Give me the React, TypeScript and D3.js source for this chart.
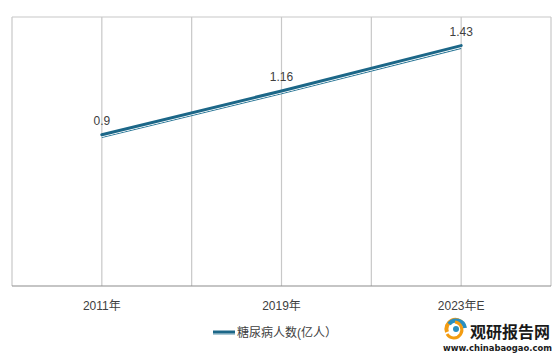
import React from "react";
import * as d3 from "d3";

const width = 559;
const height = 355;
const margin = { top: 17, right: 8, bottom: 69, left: 12 };

const categories = ["2011年", "2019年", "2023年E"];
const values = [0.9, 1.16, 1.43];
const seriesName = "糖尿病人数(亿人）";

const font = "'Liberation Sans', 'Noto Sans CJK SC', sans-serif";

export default function App() {
  const innerW = width - margin.left - margin.right;
  const innerH = height - margin.top - margin.bottom;

  // band scale for categories, point in middle of each band
  const xScale = d3.scaleBand().domain(categories).range([0, innerW]).padding(0);
  const yScale = d3.scaleLinear().domain([0, 1.6]).range([innerH, 0]);

  const cx = (c: string) => (xScale(c) || 0) + xScale.bandwidth() / 2;

  // gridlines at band edges and band centers
  const grid: number[] = [];
  categories.forEach(c => {
    grid.push(xScale(c) || 0);
    grid.push(cx(c));
  });
  grid.push(innerW);

  const pts: [number, number][] = categories.map((c, i) => [cx(c), yScale(values[i])]);
  const line = d3.line<[number, number]>();
  const path = line(pts) || "";

  return (
    <svg width={width} height={height} style={{ position: "absolute", left: 0, top: 0, background: "#fff" }}>
      <g transform={`translate(${margin.left},${margin.top})`}>
        {grid.map((g, i) => (
          <line key={i} x1={g} x2={g} y1={0} y2={innerH} stroke="#c8c8c8" strokeWidth={1.2} />
        ))}
        <line x1={0} x2={innerW} y1={0} y2={0} stroke="#c8c8c8" strokeWidth={1.2} />
        <line x1={0} x2={innerW} y1={innerH} y2={innerH} stroke="#8c8c8c" strokeWidth={1.2} />

        {/* double line */}
        <path d={path} transform="translate(0,2.8)" fill="none" stroke="#2f7a99" strokeWidth={1.2} />
        <path d={path} transform="translate(0,1.8)" fill="none" stroke="#ffffff" strokeWidth={1} />
        <path d={path} fill="none" stroke="#1c6788" strokeWidth={3} strokeLinecap="round" />

        {pts.map((p, i) => (
          <text key={i} x={p[0]} y={p[1] - 10} textAnchor="middle" fontFamily={font} fontSize={12} fill="#404040">
            {values[i]}
          </text>
        ))}

        {categories.map(c => (
          <text key={c} x={cx(c)} y={innerH + 24} textAnchor="middle" fontFamily={font} fontSize={12} fill="#404040">
            {c}
          </text>
        ))}
      </g>

      {/* legend */}
      <g transform="translate(213,332)">
        <line x1={0} x2={22} y1={0} y2={0} stroke="#1c6788" strokeWidth={3} />
        <line x1={0} x2={22} y1={2} y2={2} stroke="#5b93ab" strokeWidth={1} />
        <text x={24} y={5} fontFamily={font} fontSize={12} fill="#404040">{seriesName}</text>
      </g>

      {/* watermark */}
      <g transform="translate(443,318)">
        <path d="M4,14 A9,9 0 0 1 20,6" fill="none" stroke="#f39c12" strokeWidth={4} />
        <path d="M6,6 A9,9 0 0 1 22,10" fill="none" stroke="#2a8fc2" strokeWidth={4} />
        <path d="M12,4 A8,8 0 1 1 4,16" fill="none" stroke="#f39c12" strokeWidth={3} />
        <circle cx={13} cy={11} r={3} fill="#2a8fc2" />
        <text x={27} y={20} fontFamily="'Noto Sans CJK SC', sans-serif" fontWeight="bold" fontSize={16} fill="#1a1a1a">
          观研报告网
        </text>
        <text x={0} y={33} fontFamily="'DejaVu Sans', sans-serif" fontWeight="bold" fontSize={8.5} fill="#1a1a1a"
          textLength={109} lengthAdjust="spacingAndGlyphs">
          www.chinabaogao.com
        </text>
      </g>
    </svg>
  );
}
